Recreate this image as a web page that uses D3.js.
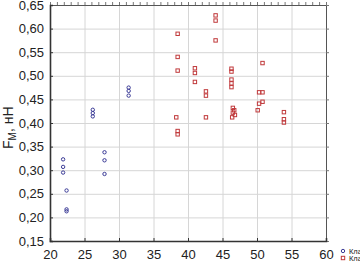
<!DOCTYPE html>
<html>
<head>
<meta charset="utf-8">
<script src="https://cdn.jsdelivr.net/npm/d3@7"></script>
<style>
  body { margin: 0; background: #fff; }
  #chart { width: 360px; height: 263px; overflow: hidden; }
  text { font-family: "Liberation Sans", Arial, sans-serif; fill: #222; }
</style>
</head>
<body>
<div id="chart"></div>
<script>
// cluster 1 (blue circles)
const cluster1X = [21.9, 21.9, 21.9, 22.4, 22.4, 22.4, 26.2, 26.2, 26.2, 27.9, 27.9, 27.9, 31.4, 31.4, 31.4];
const cluster1Y = [0.323, 0.307, 0.295, 0.257, 0.217, 0.213, 0.428, 0.421, 0.414, 0.338, 0.321, 0.292, 0.475, 0.468, 0.458];

// cluster 2 (red squares)
const cluster2X = [38.5, 38.5, 38.5, 38.3, 38.5, 38.5,
    41.0, 41.0, 41.0, 42.6, 42.6, 42.6, 44.0, 44.0, 44.0,
    46.3, 46.3, 46.3, 46.3, 46.3, 46.5, 46.7, 46.5, 46.8, 46.4,
    50.8, 50.3, 50.8, 50.8, 50.3, 50.1, 53.9, 53.9, 53.9];
const cluster2Y = [0.589, 0.540, 0.511, 0.412, 0.383, 0.376,
    0.516, 0.506, 0.487, 0.467, 0.458, 0.412, 0.628, 0.617, 0.575,
    0.515, 0.509, 0.492, 0.484, 0.476, 0.432, 0.427, 0.422, 0.417, 0.412,
    0.527, 0.465, 0.465, 0.445, 0.441, 0.427, 0.423, 0.408, 0.401];

const xTicks = [20, 25, 30, 35, 40, 45, 50, 55, 60];
const yTicks = [0.15, 0.20, 0.25, 0.30, 0.35, 0.40, 0.45, 0.50, 0.55, 0.60, 0.65];
const seriesNames = ['Кластер 1', 'Кластер 2'];

const margin = { top: 5, right: 34, bottom: 22, left: 50 };
const width = 360 - margin.left - margin.right;
const height = 263 - margin.top - margin.bottom;

const svg = d3.select('#chart').append('svg')
    .attr('width', 360)
    .attr('height', 263);

const g = svg.append('g')
    .attr('transform', `translate(${margin.left},${margin.top})`);

const x = d3.scaleLinear().domain([20, 60]).range([0, width]);
const y = d3.scaleLinear().domain([0.15, 0.65]).range([height, 0]);

const fmt = d => d3.format('.2f')(d).replace('.', ',');

// grid
g.append('g')
    .call(d3.axisBottom(x).tickValues(xTicks).tickSize(height).tickFormat(''))
    .call(a => a.select('.domain').remove())
    .selectAll('line').attr('stroke', '#d6d6d6');
g.append('g')
    .call(d3.axisLeft(y).tickValues(yTicks).tickSize(-width).tickFormat(''))
    .call(a => a.select('.domain').remove())
    .selectAll('line').attr('stroke', '#d6d6d6');

// frame: top and right thin
g.append('g')
    .call(d3.axisTop(x).ticks(40).tickSize(3).tickFormat(''))
    .call(a => a.select('.domain').attr('stroke', '#555'))
    .selectAll('line').attr('stroke', '#777');
g.append('g')
    .attr('transform', `translate(${width},0)`)
    .call(d3.axisRight(y).tickValues(yTicks).tickSize(3).tickFormat(''))
    .call(a => a.select('.domain').attr('stroke', '#555'))
    .selectAll('line').attr('stroke', '#777');

// bottom axis
const xAxis = g.append('g')
    .attr('transform', `translate(0,${height})`)
    .call(d3.axisBottom(x).tickValues(xTicks).tickSize(-3).tickPadding(6).tickFormat(d3.format('d')));
xAxis.select('.domain').attr('stroke', '#333').attr('stroke-width', 1.6);
xAxis.selectAll('line').attr('stroke', '#333');
xAxis.selectAll('text').style('font-size', '13px').attr('dy', '0.95em');

// left axis
const yAxis = g.append('g')
    .call(d3.axisLeft(y).tickValues(yTicks).tickSize(-3).tickPadding(6).tickFormat(fmt));
yAxis.select('.domain').attr('stroke', '#333').attr('stroke-width', 1.6);
yAxis.selectAll('line').attr('stroke', '#333');
yAxis.selectAll('text').style('font-size', '13px');

// y label
const yl = svg.append('text')
    .attr('transform', `translate(13,${margin.top + y(0.39)}) rotate(-90)`)
    .attr('text-anchor', 'middle')
    .style('font-size', '14px');
yl.append('tspan').text('F');
yl.append('tspan').text('M').style('font-size', '10px').attr('dy', 3);
yl.append('tspan').text(', нН').attr('dy', -3);

// points
const pts1 = cluster1X.map((v, i) => [v, cluster1Y[i]]);
const pts2 = cluster2X.map((v, i) => [v, cluster2Y[i]]);

g.append('g').selectAll('circle')
    .data(pts1)
    .join('circle')
    .attr('cx', d => x(d[0]))
    .attr('cy', d => y(d[1]))
    .attr('r', 1.7)
    .attr('fill', 'none')
    .attr('stroke', '#3a3a96')
    .attr('stroke-width', 1);

g.append('g').selectAll('rect')
    .data(pts2)
    .join('rect')
    .attr('x', d => x(d[0]) - 1.7)
    .attr('y', d => y(d[1]) - 1.7)
    .attr('width', 3.4)
    .attr('height', 3.4)
    .attr('fill', 'none')
    .attr('stroke', '#c0393b')
    .attr('stroke-width', 1);

// legend
const legend = svg.append('g').attr('transform', 'translate(343,251)');
legend.append('circle')
    .attr('r', 1.7).attr('fill', 'none').attr('stroke', '#3a3a96');
legend.append('rect')
    .attr('x', -1.7).attr('y', 5.3).attr('width', 3.4).attr('height', 3.4)
    .attr('fill', 'none').attr('stroke', '#c0393b');
seriesNames.forEach((n, i) => {
    legend.append('text')
        .attr('x', 6)
        .attr('y', 3 + i * 7)
        .style('font-size', '7.5px')
        .text(n);
});
</script>
</body>
</html>
